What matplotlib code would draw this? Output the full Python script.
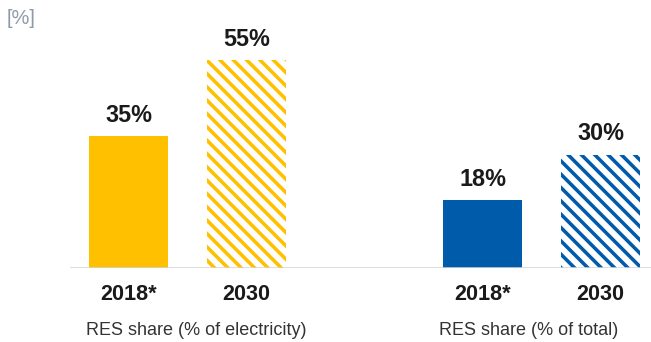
import matplotlib
matplotlib.use("Agg")
import matplotlib.pyplot as plt

plt.rcParams["font.family"] = ["Liberation Sans", "DejaVu Sans"]
plt.rcParams["hatch.linewidth"] = 3.2

# data
years = ["2018*", "2030", "2018*", "2030"]
shares = [35, 55, 18, 30]
groups = ["RES share (% of electricity)", "RES share (% of total)"]
bar_colors = ["#FFC000", "#FFC000", "#005BAA", "#005BAA"]
projected = [False, True, False, True]

x_pos = [0, 1, 3, 4]
group_x = [0.57, 3.39]

DPI = 80
fig = plt.figure(figsize=(651 / DPI, 342 / DPI), dpi=DPI)
ax = fig.add_axes([70 / 651, 1 - 268 / 342, 1 - 70 / 651, 227 / 342])

for x, v, c, proj, yr in zip(x_pos, shares, bar_colors, projected, years):
    if proj:
        ax.bar(x, v, width=0.67, color="white", edgecolor=c, hatch="\\\\",
               linewidth=0, zorder=2)
    else:
        ax.bar(x, v, width=0.67, color=c, linewidth=0, zorder=2)
    ax.annotate(f"{v}%", xy=(x, v), xytext=(0, 14), textcoords="offset pixels",
                ha="center", va="baseline", fontsize=21, fontweight="bold",
                color="#1a1a1a")
    ax.annotate(yr, xy=(x, 0),
                xycoords=("data", "axes fraction"), xytext=(0, -32),
                textcoords="offset pixels", ha="center", va="baseline",
                fontsize=19.5, fontweight="bold", color="#1a1a1a")

for gx, g in zip(group_x, groups):
    ax.annotate(g, xy=(gx, 0), xycoords=("data", "axes fraction"),
                xytext=(0, -67), textcoords="offset pixels", ha="center",
                va="baseline", fontsize=16.2, color="#333333")

ax.set_xlim(-0.496, 4.428)
ax.set_ylim(0, 60)
ax.axhline(0, color="#d4d4d4", linewidth=1.4, zorder=3)
ax.set_xticks([])
ax.set_yticks([])
for s in ax.spines.values():
    s.set_visible(False)

fig.text(7 / 651, 1 - 18 / 342, "[%]", ha="left", va="center", fontsize=18,
         color="#8f9bab")

fig.savefig("out.png", dpi=DPI)
